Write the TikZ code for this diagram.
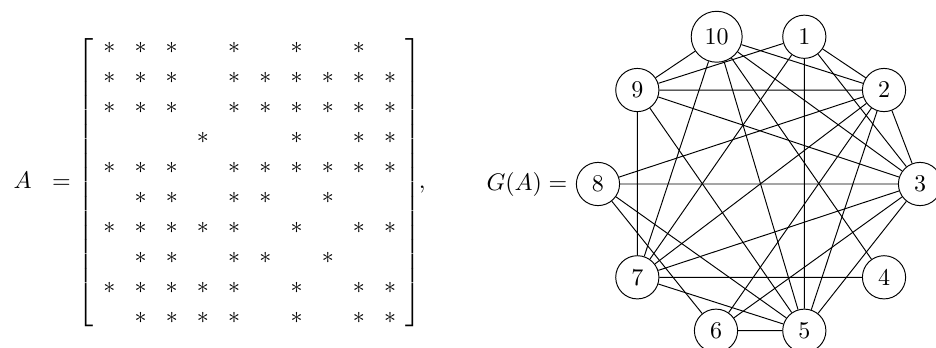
\documentclass[tikz,border=0pt]{standalone}
\usepackage{amsmath}
\usepackage{amssymb}
\usepackage{tikz}
\usetikzlibrary{positioning}
\tikzset{vtx/.style = {draw, circle, minimum size = 18pt}}
\tikzset{lhs/.style = {anchor = base}}

\begin{document}
\begin{tikzpicture}
  \useasboundingbox (0, 0) rectangle (13.704, 5.081);

  % the sparse matrix
  \node [lhs] (nameA) at (0.33, 2.324) {$A$};
  \node [lhs] (eqA) at (0.90, 2.324) {$=$};
  \node [lhs] (mat) at (3.657, 2.324) {\setlength{\arraycolsep}{4pt}\renewcommand{\arraystretch}{1.04}%
    $\left[\begin{array}{cccccccccc}
      \ast & \ast & \ast &      & \ast &      & \ast &      & \ast &      \\
      \ast & \ast & \ast &      & \ast & \ast & \ast & \ast & \ast & \ast \\
      \ast & \ast & \ast &      & \ast & \ast & \ast & \ast & \ast & \ast \\
           &      &      & \ast &      &      & \ast &      & \ast & \ast \\
      \ast & \ast & \ast &      & \ast & \ast & \ast & \ast & \ast & \ast \\
           & \ast & \ast &      & \ast & \ast &      & \ast &      &      \\
      \ast & \ast & \ast & \ast & \ast &      & \ast &      & \ast & \ast \\
           & \ast & \ast &      & \ast & \ast &      & \ast &      &      \\
      \ast & \ast & \ast & \ast & \ast &      & \ast &      & \ast & \ast \\
           & \ast & \ast & \ast & \ast &      & \ast &      & \ast & \ast
    \end{array}\right]$};
  \node [lhs] (comma) at (6.183, 2.324) {$,$};

  % its graph
  \node [vtx] (v1) at (11.776, 4.543) {$1$};
  \node [vtx] (v2) at (12.943, 3.763) {$2$};
  \node [vtx] (v3) at (13.470, 2.387) {$3$};
  \node [vtx] (v4) at (12.943, 1.021) {$4$};
  \node [vtx] (v5) at (11.776, 0.239) {$5$};
  \node [vtx] (v6) at (10.483, 0.239) {$6$};
  \node [vtx] (v7) at (9.331, 1.021) {$7$};
  \node [vtx] (v8) at (8.755, 2.387) {$8$};
  \node [vtx] (v9) at (9.331, 3.763) {$9$};
  \node [vtx] (v10) at (10.493, 4.543) {$10$};
  \node [left = 0pt of v8] (nameG) {$G(A) =$};

  \draw (v1) -- (v2) (v1) -- (v3) (v1) -- (v5) (v1) -- (v7) (v1) -- (v9);
  \draw (v2) -- (v3) (v2) -- (v5) (v2) -- (v6) (v2) -- (v7) (v2) -- (v8) (v2) -- (v9) (v2) -- (v10);
  \draw (v3) -- (v5) (v3) -- (v6) (v3) -- (v7) (v3) -- (v8) (v3) -- (v9) (v3) -- (v10);
  \draw (v4) -- (v7) (v4) -- (v10);
  \draw (v5) -- (v6) (v5) -- (v7) (v5) -- (v8) (v5) -- (v9) (v5) -- (v10);
  \draw (v6) -- (v8);
  \draw (v7) -- (v9) (v7) -- (v10);
  \draw (v9) -- (v10);
\end{tikzpicture}
\end{document}
